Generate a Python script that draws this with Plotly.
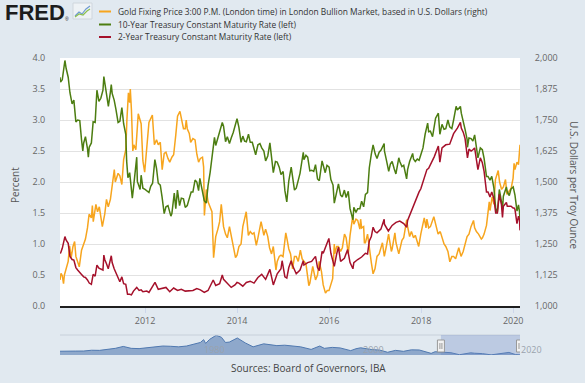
import plotly.graph_objects as go

# ---------------- data ----------------
gold = [
    ("2010-02-25", 1105), ("2010-03-05", 1132), ("2010-03-15", 1122), ("2010-03-25", 1090),
    ("2010-04-01", 1125), ("2010-04-15", 1152), ("2010-05-01", 1180), ("2010-05-12", 1243),
    ("2010-05-25", 1195), ("2010-06-08", 1240), ("2010-06-21", 1260), ("2010-07-01", 1200),
    ("2010-07-28", 1158), ("2010-08-15", 1225), ("2010-09-01", 1250), ("2010-09-15", 1270),
    ("2010-10-01", 1315), ("2010-10-14", 1370), ("2010-11-01", 1355), ("2010-11-09", 1405),
    ("2010-11-16", 1340), ("2010-12-01", 1390), ("2010-12-07", 1410), ("2010-12-20", 1380),
    ("2011-01-03", 1400), ("2011-01-27", 1320), ("2011-02-15", 1370), ("2011-03-01", 1430),
    ("2011-03-15", 1400), ("2011-04-01", 1430), ("2011-04-15", 1485), ("2011-05-02", 1550),
    ("2011-05-10", 1500), ("2011-06-01", 1535), ("2011-06-15", 1525), ("2011-07-01", 1490),
    ("2011-07-15", 1590), ("2011-08-01", 1630), ("2011-08-10", 1750), ("2011-08-22", 1860),
    ("2011-09-01", 1820), ("2011-09-06", 1875), ("2011-09-15", 1790), ("2011-09-26", 1625),
    ("2011-10-04", 1650), ("2011-10-20", 1630), ("2011-11-08", 1775), ("2011-11-15", 1760),
    ("2011-12-01", 1735), ("2011-12-15", 1585), ("2011-12-29", 1540),
    ("2012-01-15", 1640), ("2012-02-01", 1740), ("2012-02-28", 1770), ("2012-03-15", 1650),
    ("2012-04-01", 1670), ("2012-04-15", 1650), ("2012-05-01", 1660), ("2012-05-16", 1550),
    ("2012-06-01", 1615), ("2012-06-15", 1620), ("2012-07-01", 1595), ("2012-07-15", 1580),
    ("2012-08-01", 1600), ("2012-08-15", 1610), ("2012-09-01", 1690), ("2012-09-15", 1765),
    ("2012-10-04", 1785), ("2012-10-15", 1755), ("2012-11-01", 1715), ("2012-11-15", 1715),
    ("2012-11-23", 1750), ("2012-12-01", 1715), ("2012-12-17", 1696), ("2012-12-28", 1660),
    ("2013-01-15", 1675), ("2013-02-01", 1670), ("2013-02-15", 1612), ("2013-03-01", 1580),
    ("2013-03-15", 1595), ("2013-04-01", 1600), ("2013-04-10", 1560), ("2013-04-16", 1365),
    ("2013-05-01", 1470), ("2013-05-15", 1420), ("2013-06-01", 1395), ("2013-06-15", 1380),
    ("2013-06-28", 1195), ("2013-07-15", 1280), ("2013-08-01", 1310), ("2013-08-15", 1340),
    ("2013-08-28", 1410), ("2013-09-15", 1320), ("2013-10-01", 1290), ("2013-10-15", 1275),
    ("2013-11-01", 1320), ("2013-11-15", 1285), ("2013-12-01", 1250), ("2013-12-19", 1195),
    ("2013-12-31", 1205),
    ("2014-01-15", 1240), ("2014-02-01", 1250), ("2014-02-15", 1320), ("2014-03-14", 1380),
    ("2014-03-31", 1285), ("2014-04-15", 1300), ("2014-05-01", 1290), ("2014-05-15", 1295),
    ("2014-06-02", 1245), ("2014-06-15", 1275), ("2014-07-01", 1325), ("2014-07-10", 1340),
    ("2014-08-01", 1285), ("2014-08-15", 1310), ("2014-09-01", 1280), ("2014-09-15", 1235),
    ("2014-10-01", 1210), ("2014-10-15", 1240), ("2014-11-05", 1145), ("2014-11-15", 1180),
    ("2014-12-01", 1200), ("2014-12-15", 1205), ("2014-12-31", 1199),
    ("2015-01-15", 1260), ("2015-01-22", 1295), ("2015-02-01", 1270), ("2015-02-15", 1230),
    ("2015-03-01", 1210), ("2015-03-17", 1150), ("2015-04-01", 1200), ("2015-04-15", 1200),
    ("2015-05-01", 1180), ("2015-05-18", 1225), ("2015-06-01", 1190), ("2015-06-15", 1180),
    ("2015-07-01", 1170), ("2015-07-24", 1082), ("2015-08-01", 1092), ("2015-08-24", 1160),
    ("2015-09-01", 1140), ("2015-09-15", 1105), ("2015-10-01", 1125), ("2015-10-14", 1180),
    ("2015-11-01", 1140), ("2015-11-15", 1085), ("2015-12-03", 1052), ("2015-12-17", 1062),
    ("2015-12-31", 1062),
    ("2016-01-15", 1090), ("2016-01-29", 1110), ("2016-02-11", 1250), ("2016-02-15", 1210),
    ("2016-03-01", 1240), ("2016-03-15", 1240), ("2016-04-01", 1220), ("2016-04-15", 1235),
    ("2016-05-02", 1290), ("2016-05-15", 1275), ("2016-06-01", 1210), ("2016-06-15", 1285),
    ("2016-07-06", 1360), ("2016-07-15", 1330), ("2016-08-01", 1350), ("2016-08-15", 1345),
    ("2016-09-01", 1310), ("2016-09-07", 1350), ("2016-09-15", 1315), ("2016-10-01", 1320),
    ("2016-10-07", 1255), ("2016-10-15", 1255), ("2016-11-01", 1290), ("2016-11-15", 1225),
    ("2016-12-01", 1175), ("2016-12-15", 1130), ("2016-12-30", 1150),
    ("2017-01-15", 1200), ("2017-02-01", 1210), ("2017-02-27", 1255), ("2017-03-14", 1200),
    ("2017-04-01", 1245), ("2017-04-17", 1290), ("2017-05-09", 1220), ("2017-05-15", 1230),
    ("2017-06-06", 1295), ("2017-06-15", 1255), ("2017-07-07", 1210), ("2017-07-15", 1230),
    ("2017-08-01", 1265), ("2017-08-15", 1275), ("2017-09-08", 1348), ("2017-09-15", 1320),
    ("2017-10-01", 1280), ("2017-10-15", 1300), ("2017-11-01", 1275), ("2017-11-15", 1285),
    ("2017-12-12", 1240), ("2017-12-29", 1291),
    ("2018-01-15", 1340), ("2018-01-25", 1355), ("2018-02-08", 1315), ("2018-02-15", 1350),
    ("2018-03-01", 1315), ("2018-03-15", 1320), ("2018-04-11", 1360), ("2018-04-30", 1315),
    ("2018-05-15", 1290), ("2018-06-01", 1300), ("2018-06-15", 1280), ("2018-07-01", 1250),
    ("2018-07-15", 1240), ("2018-08-01", 1220), ("2018-08-16", 1178), ("2018-09-01", 1200),
    ("2018-09-15", 1200), ("2018-10-01", 1190), ("2018-10-26", 1235), ("2018-11-13", 1200),
    ("2018-11-30", 1220), ("2018-12-15", 1245), ("2018-12-31", 1280),
    ("2019-01-15", 1290), ("2019-01-31", 1320), ("2019-02-20", 1345), ("2019-03-01", 1315),
    ("2019-03-15", 1300), ("2019-04-01", 1290), ("2019-04-23", 1270), ("2019-05-02", 1275),
    ("2019-05-15", 1290), ("2019-06-03", 1325), ("2019-06-25", 1420), ("2019-07-01", 1385),
    ("2019-07-18", 1440), ("2019-08-01", 1410), ("2019-08-13", 1510), ("2019-09-04", 1546),
    ("2019-09-15", 1500), ("2019-10-01", 1470), ("2019-10-15", 1480), ("2019-11-01", 1510),
    ("2019-11-12", 1450), ("2019-12-02", 1465), ("2019-12-16", 1475), ("2019-12-31", 1515),
    ("2020-01-08", 1575), ("2020-01-15", 1550), ("2020-01-31", 1580), ("2020-02-12", 1570),
    ("2020-02-20", 1610), ("2020-02-24", 1650),
]

dgs10 = [
    ("2010-02-25", 3.69), ("2010-03-01", 3.61), ("2010-03-15", 3.65), ("2010-04-01", 3.89),
    ("2010-04-05", 3.96), ("2010-04-15", 3.83), ("2010-05-01", 3.69), ("2010-05-15", 3.44),
    ("2010-06-01", 3.26), ("2010-06-15", 3.32), ("2010-07-01", 2.97), ("2010-07-15", 3.00),
    ("2010-08-01", 2.99), ("2010-08-15", 2.68), ("2010-08-25", 2.50), ("2010-09-01", 2.63),
    ("2010-09-15", 2.73), ("2010-10-01", 2.54), ("2010-10-08", 2.40), ("2010-10-15", 2.56),
    ("2010-11-01", 2.63), ("2010-11-15", 2.97), ("2010-12-01", 2.96), ("2010-12-15", 3.48),
    ("2010-12-31", 3.30),
    ("2011-01-15", 3.35), ("2011-02-01", 3.48), ("2011-02-08", 3.70), ("2011-02-15", 3.60),
    ("2011-03-01", 3.45), ("2011-03-16", 3.22), ("2011-04-01", 3.45), ("2011-04-08", 3.57),
    ("2011-04-15", 3.43), ("2011-05-01", 3.32), ("2011-05-15", 3.17), ("2011-06-01", 2.96),
    ("2011-06-15", 2.98), ("2011-07-01", 3.20), ("2011-07-15", 2.94), ("2011-08-01", 2.77),
    ("2011-08-08", 2.34), ("2011-08-18", 2.07), ("2011-09-01", 2.15), ("2011-09-22", 1.74),
    ("2011-10-01", 1.90), ("2011-10-27", 2.40), ("2011-11-01", 2.01), ("2011-11-23", 1.88),
    ("2011-12-01", 2.11), ("2011-12-15", 1.90),
    ("2012-01-01", 1.88), ("2012-01-15", 1.86), ("2012-02-01", 1.83), ("2012-02-15", 1.93),
    ("2012-03-01", 1.98), ("2012-03-19", 2.36), ("2012-04-01", 2.22), ("2012-04-15", 1.98),
    ("2012-05-01", 1.95), ("2012-05-15", 1.76), ("2012-06-01", 1.49), ("2012-06-15", 1.60),
    ("2012-07-01", 1.62), ("2012-07-24", 1.45), ("2012-08-01", 1.49), ("2012-08-20", 1.82),
    ("2012-09-01", 1.57), ("2012-09-14", 1.87), ("2012-10-01", 1.62), ("2012-10-15", 1.74),
    ("2012-11-01", 1.73), ("2012-11-15", 1.59), ("2012-12-01", 1.62), ("2012-12-15", 1.72),
    ("2013-01-01", 1.84), ("2013-01-15", 1.84), ("2013-02-01", 2.03), ("2013-02-15", 2.00),
    ("2013-03-01", 1.86), ("2013-03-11", 2.06), ("2013-04-01", 1.86), ("2013-04-15", 1.70),
    ("2013-05-01", 1.66), ("2013-05-15", 1.94), ("2013-06-01", 2.16), ("2013-06-25", 2.61),
    ("2013-07-05", 2.72), ("2013-07-15", 2.59), ("2013-08-01", 2.71), ("2013-08-15", 2.77),
    ("2013-09-05", 2.96), ("2013-09-15", 2.90), ("2013-10-01", 2.65), ("2013-10-15", 2.73),
    ("2013-11-01", 2.62), ("2013-11-15", 2.71), ("2013-12-01", 2.80), ("2013-12-31", 3.02),
    ("2014-01-15", 2.88), ("2014-02-01", 2.64), ("2014-02-15", 2.74), ("2014-03-01", 2.66),
    ("2014-03-15", 2.65), ("2014-04-01", 2.77), ("2014-04-15", 2.64), ("2014-05-01", 2.64),
    ("2014-05-28", 2.44), ("2014-06-15", 2.60), ("2014-07-01", 2.62), ("2014-07-15", 2.55),
    ("2014-08-01", 2.50), ("2014-08-15", 2.34), ("2014-09-01", 2.42), ("2014-09-18", 2.63),
    ("2014-10-01", 2.42), ("2014-10-15", 2.15), ("2014-11-01", 2.33), ("2014-11-15", 2.32),
    ("2014-12-01", 2.24), ("2014-12-15", 2.12),
    ("2015-01-01", 2.17), ("2015-01-15", 1.86), ("2015-01-30", 1.68), ("2015-02-15", 2.02),
    ("2015-03-06", 2.24), ("2015-03-15", 2.10), ("2015-04-01", 1.87), ("2015-04-15", 1.90),
    ("2015-05-01", 2.05), ("2015-05-15", 2.14), ("2015-06-10", 2.48), ("2015-06-15", 2.36),
    ("2015-07-01", 2.43), ("2015-07-15", 2.40), ("2015-08-01", 2.18), ("2015-08-15", 2.19),
    ("2015-09-01", 2.17), ("2015-09-15", 2.28), ("2015-10-01", 2.05), ("2015-10-15", 2.02),
    ("2015-11-06", 2.34), ("2015-11-15", 2.27), ("2015-12-01", 2.15), ("2015-12-15", 2.27),
    ("2016-01-01", 2.24), ("2016-01-15", 2.04), ("2016-02-01", 1.95), ("2016-02-11", 1.66),
    ("2016-03-01", 1.83), ("2016-03-15", 1.97), ("2016-04-01", 1.79), ("2016-04-15", 1.76),
    ("2016-05-01", 1.87), ("2016-05-15", 1.75), ("2016-06-01", 1.85), ("2016-06-15", 1.57),
    ("2016-07-08", 1.39), ("2016-07-15", 1.59), ("2016-08-01", 1.51), ("2016-08-15", 1.57),
    ("2016-09-01", 1.57), ("2016-09-15", 1.69), ("2016-10-01", 1.60), ("2016-10-15", 1.80),
    ("2016-11-01", 1.83), ("2016-11-15", 2.23), ("2016-12-01", 2.45), ("2016-12-15", 2.60),
    ("2017-01-01", 2.45), ("2017-01-15", 2.38), ("2017-02-01", 2.48), ("2017-02-15", 2.51),
    ("2017-03-13", 2.62), ("2017-03-15", 2.50), ("2017-04-01", 2.34), ("2017-04-18", 2.17),
    ("2017-05-01", 2.29), ("2017-05-15", 2.33), ("2017-06-01", 2.21), ("2017-06-14", 2.13),
    ("2017-07-07", 2.39), ("2017-07-15", 2.33), ("2017-08-01", 2.25), ("2017-08-15", 2.27),
    ("2017-09-07", 2.05), ("2017-09-15", 2.20), ("2017-10-01", 2.33), ("2017-10-25", 2.46),
    ("2017-11-01", 2.37), ("2017-11-15", 2.33), ("2017-12-01", 2.37), ("2017-12-15", 2.35),
    ("2018-01-01", 2.46), ("2018-01-15", 2.55), ("2018-02-01", 2.77), ("2018-02-21", 2.95),
    ("2018-03-01", 2.81), ("2018-03-15", 2.82), ("2018-04-01", 2.73), ("2018-04-25", 3.03),
    ("2018-05-17", 3.11), ("2018-05-29", 2.77), ("2018-06-15", 2.93), ("2018-07-01", 2.85),
    ("2018-07-15", 2.86), ("2018-08-01", 3.00), ("2018-08-15", 2.89), ("2018-09-01", 2.86),
    ("2018-09-15", 3.00), ("2018-10-05", 3.22), ("2018-10-15", 3.16), ("2018-11-08", 3.22),
    ("2018-11-15", 3.11), ("2018-12-01", 2.99), ("2018-12-15", 2.85), ("2018-12-31", 2.69),
    ("2019-01-03", 2.56), ("2019-01-15", 2.71), ("2019-02-01", 2.70), ("2019-02-15", 2.66),
    ("2019-03-01", 2.76), ("2019-03-27", 2.39), ("2019-04-15", 2.55), ("2019-05-01", 2.52),
    ("2019-05-15", 2.38), ("2019-06-03", 2.09), ("2019-06-15", 2.09), ("2019-07-01", 2.03),
    ("2019-07-15", 2.09), ("2019-08-01", 1.90), ("2019-08-15", 1.58), ("2019-08-28", 1.50),
    ("2019-09-13", 1.88), ("2019-09-30", 1.68), ("2019-10-08", 1.56), ("2019-10-15", 1.77),
    ("2019-11-08", 1.92), ("2019-11-15", 1.84), ("2019-12-01", 1.78), ("2019-12-15", 1.89),
    ("2020-01-01", 1.92), ("2020-01-15", 1.79), ("2020-01-31", 1.53), ("2020-02-12", 1.63),
    ("2020-02-20", 1.52), ("2020-02-24", 1.38),
]

dgs2 = [
    ("2010-02-25", 0.86), ("2010-03-01", 0.85), ("2010-03-15", 0.93), ("2010-04-01", 1.08),
    ("2010-04-05", 1.12), ("2010-04-15", 1.06), ("2010-05-01", 1.01), ("2010-05-15", 0.80),
    ("2010-06-01", 0.75), ("2010-06-15", 0.74), ("2010-07-01", 0.62), ("2010-07-15", 0.58),
    ("2010-08-01", 0.55), ("2010-08-15", 0.51), ("2010-09-01", 0.47), ("2010-09-15", 0.46),
    ("2010-10-01", 0.42), ("2010-10-15", 0.37), ("2010-11-01", 0.35), ("2010-11-15", 0.51),
    ("2010-12-01", 0.48), ("2010-12-15", 0.66), ("2010-12-31", 0.61),
    ("2011-01-15", 0.59), ("2011-02-01", 0.58), ("2011-02-08", 0.82), ("2011-02-15", 0.75),
    ("2011-03-01", 0.68), ("2011-03-15", 0.60), ("2011-04-08", 0.81), ("2011-04-15", 0.70),
    ("2011-05-01", 0.60), ("2011-05-15", 0.53), ("2011-06-01", 0.43), ("2011-06-15", 0.39),
    ("2011-07-01", 0.47), ("2011-07-15", 0.36), ("2011-08-01", 0.35), ("2011-08-15", 0.19),
    ("2011-09-01", 0.19), ("2011-09-15", 0.18), ("2011-10-01", 0.24), ("2011-10-27", 0.30),
    ("2011-11-15", 0.25), ("2011-12-01", 0.26), ("2011-12-15", 0.23),
    ("2012-01-15", 0.24), ("2012-02-01", 0.22), ("2012-03-20", 0.38), ("2012-04-15", 0.27),
    ("2012-05-15", 0.28), ("2012-06-15", 0.30), ("2012-07-15", 0.23), ("2012-08-15", 0.29),
    ("2012-09-15", 0.25), ("2012-10-15", 0.27), ("2012-11-15", 0.24), ("2012-12-15", 0.25),
    ("2013-01-15", 0.25), ("2013-02-15", 0.28), ("2013-03-15", 0.26), ("2013-04-15", 0.22),
    ("2013-05-15", 0.25), ("2013-06-25", 0.42), ("2013-07-15", 0.33), ("2013-08-15", 0.36),
    ("2013-09-05", 0.50), ("2013-09-15", 0.43), ("2013-10-15", 0.36), ("2013-11-15", 0.30),
    ("2013-12-15", 0.34), ("2013-12-31", 0.38),
    ("2014-01-15", 0.37), ("2014-02-15", 0.32), ("2014-03-15", 0.38), ("2014-04-15", 0.40),
    ("2014-05-15", 0.37), ("2014-06-15", 0.46), ("2014-07-15", 0.51), ("2014-08-15", 0.43),
    ("2014-09-18", 0.59), ("2014-10-15", 0.34), ("2014-11-15", 0.52), ("2014-12-15", 0.60),
    ("2014-12-24", 0.73),
    ("2015-01-15", 0.47), ("2015-01-30", 0.45), ("2015-02-15", 0.62), ("2015-03-06", 0.73),
    ("2015-03-15", 0.66), ("2015-04-15", 0.52), ("2015-05-15", 0.58), ("2015-06-10", 0.73),
    ("2015-06-15", 0.66), ("2015-07-15", 0.70), ("2015-08-15", 0.72), ("2015-09-15", 0.80),
    ("2015-10-01", 0.62), ("2015-10-15", 0.57), ("2015-11-06", 0.88), ("2015-11-15", 0.85),
    ("2015-12-01", 0.93), ("2015-12-15", 1.00), ("2015-12-30", 1.09),
    ("2016-01-15", 0.85), ("2016-02-11", 0.64), ("2016-03-01", 0.84), ("2016-03-15", 0.95),
    ("2016-04-01", 0.72), ("2016-04-15", 0.75), ("2016-05-01", 0.77), ("2016-05-27", 0.91),
    ("2016-06-15", 0.70), ("2016-07-08", 0.60), ("2016-07-15", 0.70), ("2016-08-15", 0.75),
    ("2016-09-15", 0.79), ("2016-10-15", 0.85), ("2016-11-01", 0.84), ("2016-11-15", 1.05),
    ("2016-12-01", 1.12), ("2016-12-15", 1.27), ("2016-12-30", 1.20),
    ("2017-01-15", 1.18), ("2017-02-15", 1.24), ("2017-03-13", 1.40), ("2017-03-15", 1.32),
    ("2017-04-15", 1.21), ("2017-05-15", 1.30), ("2017-06-15", 1.35), ("2017-07-15", 1.37),
    ("2017-08-15", 1.33), ("2017-09-08", 1.27), ("2017-09-15", 1.38), ("2017-10-15", 1.53),
    ("2017-11-15", 1.71), ("2017-12-15", 1.84), ("2017-12-29", 1.89),
    ("2018-01-15", 2.00), ("2018-02-01", 2.14), ("2018-02-15", 2.20), ("2018-03-01", 2.22),
    ("2018-03-15", 2.28), ("2018-04-15", 2.41), ("2018-05-17", 2.58), ("2018-05-29", 2.32),
    ("2018-06-15", 2.55), ("2018-07-15", 2.60), ("2018-08-15", 2.61), ("2018-09-15", 2.78),
    ("2018-10-15", 2.87), ("2018-11-08", 2.96), ("2018-11-15", 2.87), ("2018-12-01", 2.80),
    ("2018-12-15", 2.70), ("2018-12-31", 2.48),
    ("2019-01-03", 2.39), ("2019-01-15", 2.53), ("2019-02-01", 2.50), ("2019-02-15", 2.52),
    ("2019-03-01", 2.55), ("2019-03-27", 2.20), ("2019-04-15", 2.39), ("2019-05-01", 2.31),
    ("2019-05-15", 2.17), ("2019-06-03", 1.84), ("2019-06-15", 1.84), ("2019-07-01", 1.76),
    ("2019-07-15", 1.84), ("2019-08-01", 1.73), ("2019-08-15", 1.50), ("2019-08-28", 1.50),
    ("2019-09-13", 1.80), ("2019-09-30", 1.63), ("2019-10-08", 1.43), ("2019-10-15", 1.61),
    ("2019-11-08", 1.67), ("2019-11-15", 1.61), ("2019-12-01", 1.61), ("2019-12-15", 1.61),
    ("2019-12-31", 1.58),
    ("2020-01-08", 1.58), ("2020-01-15", 1.56), ("2020-01-31", 1.33), ("2020-02-12", 1.45),
    ("2020-02-20", 1.39), ("2020-02-24", 1.22),
]

# navigator: long history of the 10-year rate
nav10 = [
    ("1962-01-02", 4.06), ("1963-01-01", 3.90), ("1964-01-01", 4.19), ("1965-01-01", 4.22),
    ("1966-01-01", 4.80), ("1967-01-01", 4.70), ("1968-01-01", 5.50), ("1969-01-01", 6.20),
    ("1970-01-01", 7.60), ("1971-01-01", 6.20), ("1972-01-01", 6.00), ("1973-01-01", 6.50),
    ("1974-01-01", 7.30), ("1975-01-01", 7.90), ("1976-01-01", 7.70), ("1977-01-01", 7.30),
    ("1978-01-01", 7.90), ("1979-01-01", 9.10), ("1979-10-01", 10.5), ("1980-03-01", 12.6),
    ("1980-06-01", 9.8), ("1980-12-01", 12.8), ("1981-09-30", 15.8), ("1982-06-01", 14.3),
    ("1982-12-01", 10.5), ("1983-06-01", 10.8), ("1984-06-01", 13.8), ("1985-06-01", 10.2),
    ("1986-06-01", 7.3), ("1987-10-01", 9.5), ("1988-06-01", 8.9), ("1989-06-01", 8.2),
    ("1990-06-01", 8.5), ("1991-06-01", 8.1), ("1992-06-01", 7.3), ("1993-10-01", 5.4),
    ("1994-11-01", 7.9), ("1995-06-01", 6.2), ("1996-06-01", 6.9), ("1997-06-01", 6.5),
    ("1998-10-01", 4.5), ("1999-06-01", 5.9), ("2000-01-01", 6.6), ("2001-06-01", 5.3),
    ("2002-06-01", 4.9), ("2003-06-01", 3.3), ("2004-06-01", 4.7), ("2005-06-01", 4.0),
    ("2006-06-01", 5.1), ("2007-06-01", 5.0), ("2008-12-01", 2.5), ("2009-06-01", 3.7),
    ("2010-06-01", 3.2), ("2011-06-01", 3.0), ("2012-07-01", 1.5), ("2013-12-01", 2.9),
    ("2014-06-01", 2.6), ("2015-06-01", 2.3), ("2016-07-01", 1.4), ("2017-06-01", 2.2),
    ("2018-10-01", 3.2), ("2019-08-01", 1.6), ("2020-02-24", 1.4),
]

x_tick_years = ["2012", "2014", "2016", "2018", "2020"]
left_ticks = [0, 0.5, 1.0, 1.5, 2.0, 2.5, 3.0, 3.5, 4.0]
right_ticks = [1000, 1125, 1250, 1375, 1500, 1625, 1750, 1875, 2000]
nav_labels = ["1980", "2000", "2020"]

view_start, view_end = "2010-02-25", "2020-02-24"
nav_start = "1962-01-02"

legend_items = [
    ("Gold Fixing Price 3:00 P.M. (London time) in London Bullion Market, based in U.S. Dollars (right)", "#F7A51E"),
    ("10-Year Treasury Constant Maturity Rate (left)", "#4C7D11"),
    ("2-Year Treasury Constant Maturity Rate (left)", "#A5112B"),
]

def split(s):
    return [d for d, _ in s], [v for _, v in s]

# ---------------- geometry helpers ----------------
W, H = 585, 383
ML, MR, MT, MB = 60, 65, 58, 20
PW, PH = W - ML - MR, H - MT - MB

def fx(px):
    return (px - ML) / PW

def fy(py):
    return (H - MB - py) / PH

FONT = "Open Sans"
BG = "#e1e9f0"

fig = go.Figure()

gx, gy = split(gold)
tx, ty = split(dgs10)
sx, sy = split(dgs2)
nx, ny = split(nav10)

fig.add_trace(go.Scatter(x=gx, y=gy, mode="lines", yaxis="y", xaxis="x",
                         line=dict(color=legend_items[0][1], width=1.5), hoverinfo="skip"))
fig.add_trace(go.Scatter(x=tx, y=ty, mode="lines", yaxis="y2", xaxis="x",
                         line=dict(color=legend_items[1][1], width=1.5), hoverinfo="skip"))
fig.add_trace(go.Scatter(x=sx, y=sy, mode="lines", yaxis="y2", xaxis="x",
                         line=dict(color=legend_items[2][1], width=1.5), hoverinfo="skip"))
fig.add_trace(go.Scatter(x=nx, y=ny, mode="lines", xaxis="x2", yaxis="y3",
                         fill="tozeroy", fillcolor="#8ea8cb",
                         line=dict(color="#5079b0", width=1), hoverinfo="skip"))

tickfont = dict(family=FONT, size=9, color="#666666")

fig.update_layout(
    width=W, height=H,
    margin=dict(l=ML, r=MR, t=MT, b=MB, pad=0),
    paper_bgcolor=BG, plot_bgcolor=BG,
    showlegend=False,
    font=dict(family=FONT, size=10, color="#333"),
    xaxis=dict(type="date", domain=[0, 1], anchor="y",
               range=[view_start, view_end],
               tickvals=[y + "-01-01" for y in x_tick_years], ticktext=x_tick_years,
               ticks="outside", ticklen=5, tickcolor="#ccd6eb",
               showline=True, linecolor="#1f1f1f", linewidth=2,
               showgrid=False, zeroline=False, tickfont=tickfont, fixedrange=True),
    yaxis=dict(domain=[fy(306), 1], anchor="x", side="right",
               range=[1000, 2000], tickvals=right_ticks, tickformat=",d",
               ticks="outside", ticklen=12, tickcolor="rgba(0,0,0,0)",
               showgrid=True, gridcolor="#e2e2e2", gridwidth=1,
               zeroline=False, showline=False, tickfont=tickfont, fixedrange=True),
    yaxis2=dict(overlaying="y", anchor="x", side="left",
                range=[0, 4], tickvals=left_ticks, tickformat=".1f",
                ticks="outside", ticklen=12, tickcolor="rgba(0,0,0,0)",
                showgrid=False, zeroline=False, showline=False,
                tickfont=tickfont, fixedrange=True),
    xaxis2=dict(type="date", domain=[0, 1], anchor="y3",
                range=[nav_start, view_end], visible=False, fixedrange=True),
    yaxis3=dict(domain=[fy(355), fy(335)], anchor="x2",
                range=[1.3, 16.0], visible=False, fixedrange=True),
)

shapes = []
# white main plot area
shapes.append(dict(type="rect", xref="x domain", yref="y domain", x0=0, x1=1, y0=0, y1=1,
                   fillcolor="white", line=dict(width=0), layer="below"))
# navigator top border
shapes.append(dict(type="line", xref="paper", yref="paper", x0=0, x1=1,
                   y0=fy(335), y1=fy(335), line=dict(color="#c7d0da", width=1)))
# navigator selection mask
shapes.append(dict(type="rect", xref="x2", yref="paper", x0=view_start, x1=view_end,
                   y0=fy(355), y1=fy(335), fillcolor="rgba(102,133,194,0.3)",
                   line=dict(width=0), layer="above"))
# navigator handles
for d in (view_start, view_end):
    shapes.append(dict(type="rect", xref="x2", yref="paper", xsizemode="pixel", xanchor=d,
                       x0=-3.5, x1=3.5, y0=fy(352), y1=fy(340),
                       fillcolor="#f2f2f2", line=dict(color="#999999", width=1)))
    for off in (-1, 1):
        shapes.append(dict(type="line", xref="x2", yref="paper", xsizemode="pixel", xanchor=d,
                           x0=off, x1=off, y0=fy(349), y1=fy(343),
                           line=dict(color="#999999", width=1)))
# legend swatches
legend_rows = [11.5, 24.5, 37.0]
for (label, col), ry in zip(legend_items, legend_rows):
    shapes.append(dict(type="line", xref="paper", yref="paper", x0=fx(99), x1=fx(111),
                       y0=fy(ry), y1=fy(ry), line=dict(color=col, width=2)))
# FRED icon
shapes.append(dict(type="rect", xref="paper", yref="paper", x0=fx(73), x1=fx(92),
                   y0=fy(19), y1=fy(3), fillcolor="#eef2f5", line=dict(color="#cfd6dd", width=1)))
def ipath(pts):
    return "M " + " L ".join(f"{fx(a):.5f},{fy(b):.5f}" for a, b in pts)
shapes.append(dict(type="path", xref="paper", yref="paper",
                   path=ipath([(75, 16), (79, 12), (82, 14), (86, 9), (90, 6)]),
                   line=dict(color="#6f9bd1", width=1.2)))
shapes.append(dict(type="path", xref="paper", yref="paper",
                   path=ipath([(75, 17), (79, 14), (83, 15), (87, 11), (90, 9)]),
                   line=dict(color="#8cbf4f", width=1.2)))

annotations = []
for (label, col), ry in zip(legend_items, legend_rows):
    annotations.append(dict(xref="paper", yref="paper", x=fx(116), y=fy(ry),
                            xanchor="left", yanchor="middle", showarrow=False, text=label,
                            font=dict(family=FONT, size=8.4, color="#333333")))
# axis titles
annotations.append(dict(xref="paper", yref="paper", x=fx(15), y=fy(185), textangle=-90,
                        xanchor="center", yanchor="middle", showarrow=False, text="Percent",
                        font=dict(family=FONT, size=10, color="#555555")))
annotations.append(dict(xref="paper", yref="paper", x=fx(574), y=fy(185), textangle=90,
                        xanchor="center", yanchor="middle", showarrow=False,
                        text="U.S. Dollars per Troy Ounce",
                        font=dict(family=FONT, size=10, color="#555555")))
# navigator year labels
for yr in nav_labels:
    annotations.append(dict(xref="x2", yref="paper", x=yr + "-01-01", y=fy(349),
                            xanchor="left", yanchor="middle", showarrow=False, text=yr,
                            font=dict(family=FONT, size=9, color="#9aa3ad")))
# sources
annotations.append(dict(xref="paper", yref="paper", x=fx(308), y=fy(368),
                        xanchor="center", yanchor="middle", showarrow=False,
                        text="Sources: Board of Governors, IBA",
                        font=dict(family=FONT, size=10, color="#444444")))
# FRED logo
annotations.append(dict(xref="paper", yref="paper", x=fx(3), y=fy(12),
                        xanchor="left", yanchor="middle", showarrow=False,
                        text="<b>FRED</b>",
                        font=dict(family="Liberation Sans", size=22, color="#1c1c1c")))
annotations.append(dict(xref="paper", yref="paper", x=fx(63), y=fy(19),
                        xanchor="left", yanchor="middle", showarrow=False, text="®",
                        font=dict(family="Liberation Sans", size=5, color="#1c1c1c")))

fig.update_layout(shapes=shapes, annotations=annotations)

fig.write_html("out.html", config={"displayModeBar": False, "staticPlot": True},
               post_script="document.body.style.margin='0';document.body.style.overflow='hidden';")
